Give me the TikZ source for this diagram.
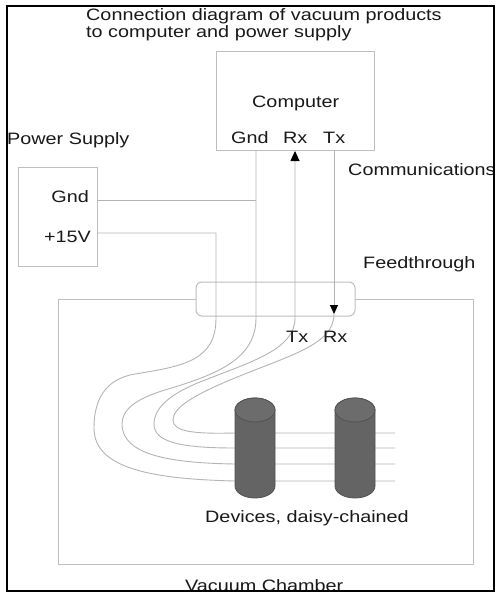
\documentclass[tikz,border=0pt]{standalone}
\usepackage{fontspec}
\setmainfont{Liberation Sans}[FakeStretch=1.2]
\usetikzlibrary{arrows.meta}
\definecolor{boxc}{RGB}{190,190,190}
\definecolor{wirec}{RGB}{180,180,180}
\definecolor{txt}{RGB}{25,25,25}
\definecolor{cylbody}{RGB}{100,100,100}
\definecolor{cyltop}{RGB}{108,108,108}
\definecolor{cyledge}{RGB}{82,82,82}
\tikzset{
  lbl/.style={inner sep=0pt, anchor=base west, text=txt, font=\fontsize{16.5}{19}\selectfont},
  lble/.style={lbl, anchor=base east},
  boxn/.style={draw=boxc, line width=1pt, inner sep=0pt},
  wire/.style={draw=wirec, line width=0.9pt},
  upar/.style={{Triangle[length=10pt,width=9pt,black]}-},
  dnar/.style={-{Triangle[length=9pt,width=8pt,black]}},
}
\begin{document}
\begin{tikzpicture}[x=1pt,y=-1pt]
\useasboundingbox (0,0) rectangle (497,597);
\fill[white] (0,0) rectangle (497,597);

% vacuum chamber and feedthrough
\node[boxn, minimum width=415pt, minimum height=265pt] (chamber) at (265.5,431.5) {};
\node[boxn, fill=white, rounded corners=6pt, minimum width=159pt, minimum height=34pt] (feed) at (275.5,299) {};

% computer and power supply boxes
\node[boxn, minimum width=158pt, minimum height=99pt] (computer) at (295,100.5) {};
\node[boxn, minimum width=79pt, minimum height=99pt] (psu) at (57.5,216.5) {};

% connection points
\coordinate (psgnd) at (97,200);
\coordinate (ps15) at (97,233);
\coordinate (cgnd) at (256,150);
\coordinate (crx) at (295,151);
\coordinate (ctx) at (334,150);
\coordinate (gndjoin) at (256,200);
\coordinate (bend15) at (216,233);
\coordinate (ftrx) at (334,314);

% wires
\draw[wire] (psgnd) -- (gndjoin);
\draw[wire] (ps15) -- (bend15) -- (216,318)
  .. controls (216,360) and (185,366) .. (135,374)
  .. controls (105,379) and (94,400) .. (94,428)
  .. controls (94,468) and (150,479) .. (235,481) -- (395,481);
\draw[wire] (cgnd) -- (256,318)
  .. controls (256,360) and (215,375) .. (165,390)
  .. controls (135,399) and (122,410) .. (122,424)
  .. controls (122,455) and (170,463) .. (235,464) -- (395,464);
\draw[wire, upar] (crx) -- (295,318)
  .. controls (295,350) and (250,362) .. (200,382)
  .. controls (170,394) and (154,408) .. (154,424)
  .. controls (154,442) and (180,448) .. (235,448) -- (395,448);
\draw[wire, dnar] (ctx) -- (ftrx);
\draw[wire] (ftrx)
  .. controls (334,345) and (290,355) .. (230,380)
  .. controls (192,396) and (173,408) .. (173,420)
  .. controls (173,432) and (195,434) .. (235,433) -- (395,433);

% devices (cylinders)
\foreach \cx in {255,355}{
  \filldraw[fill=cylbody, draw=cyledge, line width=0.8pt]
    (\cx-20,410) -- (\cx-20,486)
    arc[start angle=180, end angle=360, x radius=20pt, y radius=12pt]
    -- (\cx+20,410)
    arc[start angle=0, end angle=180, x radius=20pt, y radius=12pt] -- cycle;
  \filldraw[fill=cyltop, draw=cyledge, line width=0.8pt]
    (\cx,410) ellipse[x radius=20pt, y radius=12pt];
}

% texts
\node[lbl] (title1) at (86,20) {Connection diagram of vacuum products};
\node[lbl] (title2) at (86,37) {to computer and power supply};
\node[lbl] (complbl) at (252,107.5) {Computer};
\node[lbl] (cgndl) at (231,143.5) {Gnd};
\node[lbl] (crxl) at (283,143.5) {Rx};
\node[lbl] (ctxl) at (323,143.5) {Tx};
\node[lbl] (pslbl) at (7,144) {Power Supply};
\node[lble] (psgndl) at (89,202) {Gnd};
\node[lble] (ps15l) at (91,242) {+15V};
\node[lbl] (comm) at (348,175) {Communications};
\node[lbl] (feedl) at (363,268) {Feedthrough};
\node[lbl] (dtx) at (286,342) {Tx};
\node[lbl] (drx) at (323,342) {Rx};
\node[lbl] (devl) at (205,522) {Devices, daisy-chained};
\node[lbl] (vacl) at (185,591) {Vacuum Chamber};

% outer frame
\draw[black, line width=2pt] (7,6) rectangle (494,591);
\end{tikzpicture}
\end{document}
